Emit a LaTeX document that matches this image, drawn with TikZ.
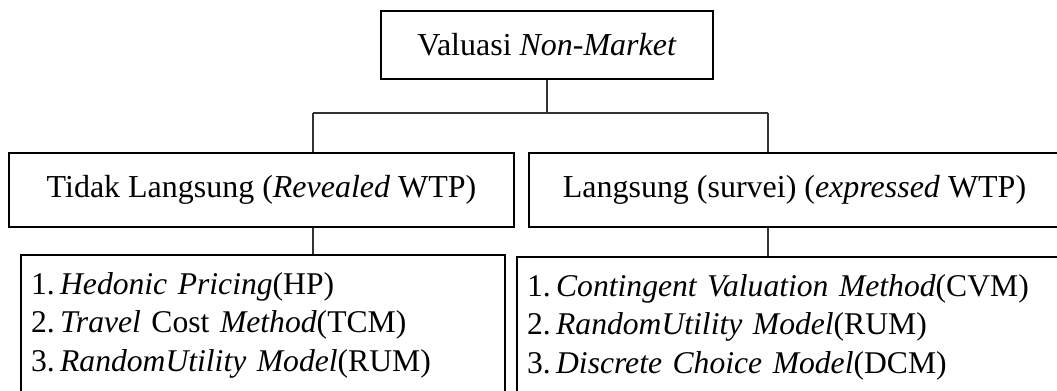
\documentclass[tikz,border=0pt]{standalone}
\usepackage{fontspec}
\setmainfont{Liberation Serif}
\usepackage{tikz}
\usetikzlibrary{positioning}

\begin{document}
\begin{tikzpicture}[
    x=0.02cm, y=-0.02cm,
    hdr/.style={draw, line width=1.3pt, inner sep=0pt,
                font=\fontsize{18.2}{21.8}\selectfont},
    lst/.style={draw, line width=1.3pt, anchor=north west, align=left,
                inner xsep=0.2cm, inner ysep=10pt,
                font=\fontsize{18}{21.8}\selectfont},
    conn/.style={line width=0.6pt, black!80},
  ]
  \clip (0,0) rectangle (1057,390);

  % ============ Top ============
  \node[hdr, minimum width=6.64cm, minimum height=1.36cm] (top) at (547,45)
    {Valuasi \textit{Non-Market}};

  % ============ Row 1 ============
  \node[hdr, minimum width=10.1cm, minimum height=1.48cm] (tl) at (261.5,190)
    {Tidak Langsung (\textit{Revealed} WTP)};
  \node[hdr, minimum width=10.62cm, minimum height=1.48cm] (tr) at (794.5,190)
    {Langsung (survei) (\textit{expressed} WTP)};

  % ============ Row 2 ============
  \node[lst, text width=9.28cm] (bl) at (20,254) {
    1.\,\textit{Hedonic Pricing}(HP)\\
    2.\,\textit{Travel} Cost \textit{Method}(TCM)\\
    3.\,\textit{RandomUtility Model}(RUM)
  };
  \node[lst, text width=10.88cm] (br) at (516,256) {
    1.\,\textit{Contingent Valuation Method}(CVM)\\
    2.\,\textit{RandomUtility Model}(RUM)\\
    3.\,\textit{Discrete Choice Model}(DCM)
  };

  % ======== CONNECTIONS ========
  \coordinate (busL) at (313,113);
  \coordinate (busR) at (768,113);

  \draw[conn] (top.south) -- (top.south |- busL);
  \draw[conn] (busL) -- (busR);
  \draw[conn] (busL) -- (busL |- tl.north);
  \draw[conn] (busR) -- (busR |- tr.north);

  \draw[conn] (tl.south -| busL) -- (bl.north -| busL);
  \draw[conn] (tr.south -| busR) -- (br.north -| busR);

\end{tikzpicture}
\end{document}
